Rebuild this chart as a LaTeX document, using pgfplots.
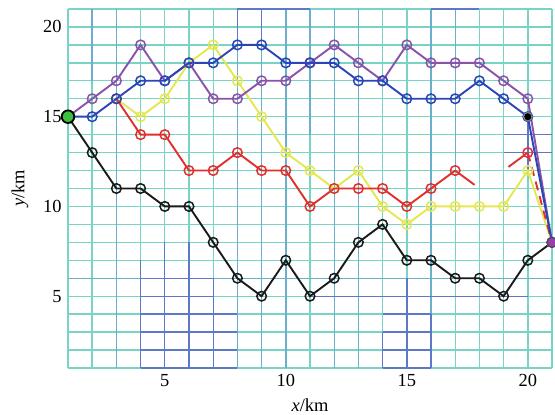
\documentclass[border=0pt]{standalone}
\usepackage{fontspec}
\setmainfont{Liberation Serif}
\usepackage{pgfplots}
\pgfplotsset{compat=1.18}
\definecolor{GridTeal}{HTML}{78D4C4}
\definecolor{GridMid}{HTML}{6AAFCB}
\definecolor{GridBlue}{HTML}{5C78C8}
\definecolor{PathBlack}{HTML}{1A1A1A}
\definecolor{PathBlue}{HTML}{2B44B8}
\definecolor{PathPurple}{HTML}{8A52A8}
\definecolor{PathYellow}{HTML}{E6E652}
\definecolor{PathRed}{HTML}{E0302E}
\definecolor{StartGreen}{HTML}{3FBF3F}
\definecolor{EndPurple}{HTML}{9A3FA5}

\begin{document}
\fontsize{18.5}{22}\selectfont
\begin{tikzpicture}
\begin{axis}[
  scale only axis,
  width=484bp, height=359bp,
  xmin=1, xmax=21, ymin=1, ymax=21,
  xtick={5,10,15,20}, ytick={5,10,15,20},
  minor xtick={1,...,21}, minor ytick={1,...,21},
  grid=both,
  major grid style={draw=GridTeal, line width=1.4bp},
  minor grid style={draw=GridTeal, line width=1.4bp},
  axis line style={draw=none},
  major tick length=0pt, minor tick length=0pt,
  /pgf/number format/assume math mode=true,
  xlabel={{\itshape x}/km}, ylabel={{\itshape y}/km},
  every axis x label/.style={at={(axis description cs:0.5,0)}, anchor=center, yshift=-37bp},
  every axis y label/.style={at={(axis description cs:0,0.5)}, xshift=-48bp, rotate=90, anchor=center},
  unbounded coords=jump,
  every axis plot/.append style={line width=1.9bp, mark size=4.8bp, mark options={solid, line width=1.5bp}},
]
% grid lines with a bluer tint
\addplot[GridMid, line width=1.4bp, mark=none] coordinates {
  (3,1) (3,21) (nan,nan) (8,1) (8,21) (nan,nan) (9,1) (9,21) (nan,nan)
  (10,1) (10,21) (nan,nan) (12,1) (12,21) (nan,nan) (13,1) (13,21) (nan,nan)
  (16,1) (16,21) (nan,nan) (2,17) (2,21) (nan,nan) (17,12) (17,21) (nan,nan)
  (1,6) (21,6) (nan,nan) (11,14) (11,21)};
\addplot[GridBlue, line width=1.4bp, mark=none] coordinates {
  (4,1) (4,7) (nan,nan) (5,1) (5,8) (nan,nan) (6,1) (6,8) (nan,nan) (7,1) (7,6) (nan,nan)
  (4,1) (8,1) (nan,nan) (4,2) (8,2) (nan,nan) (4,3) (8,3) (nan,nan) (4,4) (8,4) (nan,nan)
  (4,5) (7,5) (nan,nan) (4,6) (7,6) (nan,nan)
  (15,1) (15,6) (nan,nan) (16,1) (16,4) (nan,nan) (14,1) (14,3) (nan,nan)
  (14,1) (16,1) (nan,nan) (14,2) (16,2) (nan,nan) (14,3) (16,3) (nan,nan) (14,4) (16,4) (nan,nan)
  (11,5) (20,5) (nan,nan)
  (8,21) (11,21) (nan,nan) (16,21) (18,21) (nan,nan) (8,19) (8,21) (nan,nan) (9,19) (9,21) (nan,nan)
  (19,13) (21,13) (nan,nan) (19,14) (21,14) (nan,nan) (20,12) (20,15)};
% paths
\addplot[PathBlack, mark=o] coordinates {
  (1,15) (2,13) (3,11) (4,11) (5,10) (6,10) (7,8) (8,6) (9,5) (10,7) (11,5)
  (12,6) (13,8) (14,9) (15,7) (16,7) (17,6) (18,6) (19,5) (20,7) (21,8)};
\addplot[PathYellow, mark=o] coordinates {
  (3,16) (4,15) (5,16) (6,18) (7,19) (8,17) (9,15) (10,13) (11,12) (12,11)
  (13,12) (14,10) (15,9) (16,10) (17,10) (18,10) (19,10) (20,12) (21,8)};
\addplot[PathRed, mark=o] coordinates {
  (3,16) (4,14) (5,14) (6,12) (7,12) (8,13) (9,12) (10,12) (11,10) (12,11)
  (13,11) (14,11) (15,10) (16,11) (17,12)};
\addplot[PathRed, mark=none] coordinates {(17,12) (17.8,11.2)};
\addplot[PathRed, mark=none] coordinates {(19.2,12.2) (20,13)};
\addplot[PathRed, only marks, mark=o] coordinates {(20,13)};
\addplot[PathRed, mark=none, dash pattern=on 9bp off 6bp] coordinates {(20,13) (21,8)};
\addplot[PathPurple, mark=o] coordinates {
  (1,15) (2,16) (3,17) (4,19) (5,17) (6,18) (7,16) (8,16) (9,17) (10,17) (11,18)
  (12,19) (13,18) (14,17) (15,19) (16,18) (17,18) (18,18) (19,17) (20,16) (21,8)};
\addplot[PathBlue, mark=o] coordinates {
  (1,15) (2,15) (3,16) (4,17) (5,17) (6,18) (7,18) (8,19) (9,19) (10,18) (11,18)
  (12,18) (13,17) (14,17) (15,16) (16,16) (17,16) (18,17) (19,16) (20,15) (21,8)};
% start, waypoint and end marks
\addplot[only marks, mark=*, mark size=6.3bp, mark options={fill=StartGreen, draw=black, line width=1.8bp}] coordinates {(1,15)};
\addplot[only marks, mark=*, mark size=4.3bp, mark options={fill=white, draw=gray, line width=0.9bp}] coordinates {(20,15)};
\addplot[only marks, mark=*, mark size=2.6bp, mark options={fill=black, draw=black}] coordinates {(20,15)};
\addplot[only marks, mark=*, mark size=5bp, mark options={fill=EndPurple, draw=black!70, line width=1bp}] coordinates {(21,8)};
\end{axis}
\pgfresetboundingbox
\useasboundingbox ([xshift=-68bp,yshift=-47bp]current axis.south west) rectangle ([xshift=3bp,yshift=9bp]current axis.north east);
\end{tikzpicture}
\end{document}
